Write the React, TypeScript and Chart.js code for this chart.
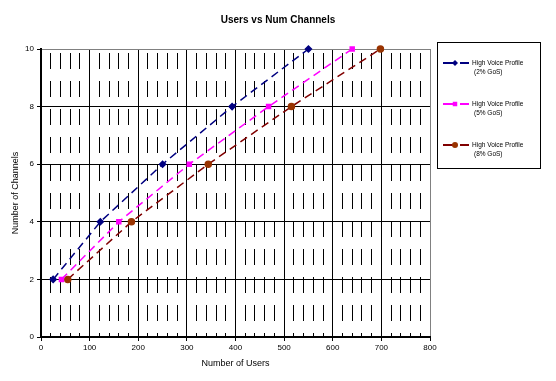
import React, { useEffect, useRef } from "react";
import { Chart, registerables } from "chart.js";

Chart.register(...registerables);

const chartTitle = "Users vs Num Channels";
const xTitle = "Number of Users";
const yTitle = "Number of Channels";
const seriesNames = ["High Voice Profile", "High Voice Profile", "High Voice Profile"];
const seriesSub = ["(2% GoS)", "(5% GoS)", "(8% GoS)"];
const channels = [2, 4, 6, 8, 10];
const users2 = [25, 122, 250, 393, 550];
const users5 = [42, 160, 305, 468, 640];
const users8 = [55, 186, 344, 515, 698];
const lineColors = ["#000080", "#FF00FF", "#800000"];
const markerColors = ["#000080", "#FF00FF", "#993300"];
const markerStyles = ["rectRot", "rect", "circle"];
const markerRadius = [3, 2.8, 3];

const FONT = "'Liberation Sans', Arial, sans-serif";

export default function App() {
  const ref = useRef<HTMLCanvasElement>(null);

  useEffect(() => {
    const canvas = ref.current;
    if (!canvas) return;
    const userSets = [users2, users5, users8];
    const datasets = userSets.map((u, i) => ({
      label: seriesNames[i] + " " + seriesSub[i],
      data: u.map((x, j) => ({ x, y: channels[j] })),
      borderColor: lineColors[i],
      backgroundColor: markerColors[i],
      pointBorderColor: markerColors[i],
      pointBackgroundColor: markerColors[i],
      pointStyle: markerStyles[i],
      pointRadius: markerRadius[i],
      borderWidth: 1.5,
      borderDash: [8, 5],
      tension: 0,
      clip: false as any,
    }));

    const overlay = {
      id: "overlay",
      afterDraw(chart: any) {
        const ctx = chart.ctx;
        ctx.save();
        ctx.fillStyle = "#000";
        ctx.font = `bold 10px ${FONT}`;
        ctx.textAlign = "center";
        ctx.textBaseline = "middle";
        ctx.fillText(chartTitle, 278, 20);

        // legend box
        ctx.strokeStyle = "#000";
        ctx.lineWidth = 1;
        ctx.setLineDash([]);
        ctx.strokeRect(437.5, 42.5, 103, 126);
        for (let i = 0; i < 3; i++) {
          const y = 63 + i * 41;
          ctx.strokeStyle = lineColors[i];
          ctx.lineWidth = 2;
          ctx.setLineDash([14, 3]);
          ctx.beginPath();
          ctx.moveTo(443, y);
          ctx.lineTo(469, y);
          ctx.stroke();
          ctx.setLineDash([]);
          ctx.fillStyle = markerColors[i];
          const r = markerRadius[i];
          const cx = 455;
          ctx.beginPath();
          if (markerStyles[i] === "rectRot") {
            ctx.moveTo(cx, y - r);
            ctx.lineTo(cx + r, y);
            ctx.lineTo(cx, y + r);
            ctx.lineTo(cx - r, y);
            ctx.closePath();
          } else if (markerStyles[i] === "rect") {
            ctx.rect(cx - r * 0.8, y - r * 0.8, r * 1.6, r * 1.6);
          } else {
            ctx.arc(cx, y, r, 0, Math.PI * 2);
          }
          ctx.fill();
          ctx.fillStyle = "#000";
          ctx.font = `6.5px ${FONT}`;
          ctx.textAlign = "left";
          ctx.textBaseline = "middle";
          ctx.fillText(seriesNames[i], 472, y);
          ctx.fillText(seriesSub[i], 474, y + 9);
        }
        ctx.restore();
      },
    };

    const chart = new Chart(canvas, {
      type: "line",
      data: { datasets: datasets as any },
      plugins: [overlay],
      options: {
        animation: false,
        responsive: false,
        layout: { padding: { top: 49, right: 126, left: 0, bottom: 0 } },
        plugins: {
          legend: { display: false },
          title: { display: false },
          tooltip: { enabled: false },
        },
        scales: {
          x: {
            type: "linear",
            min: 0,
            max: 800,
            afterFit: (s: any) => {
              s.height = 44;
            },
            ticks: {
              stepSize: 20,
              autoSkip: false,
              maxRotation: 0,
              padding: 2,
              color: "#000",
              font: { size: 8, family: FONT },
              callback: (v: any) => (Number(v) % 100 === 0 ? String(v) : ""),
            },
            grid: {
              color: (c: any) => {
                const v = c.tick ? c.tick.value : 0;
                return v === 800 ? "#808080" : "#000";
              },
              lineWidth: 1,
              tickLength: 4,
              tickColor: (c: any) => {
                const v = c.tick ? c.tick.value : 0;
                return v % 100 === 0 ? "#000" : "rgba(0,0,0,0)";
              },
            },
            border: {
              display: true,
              color: "#000",
              width: 2,
              dash: (c: any) => {
                const v = c.tick ? c.tick.value : 0;
                return v % 100 === 0 ? [] : [16, 12];
              },
              dashOffset: -4,
            } as any,
            title: {
              display: true,
              text: xTitle,
              color: "#000",
              font: { size: 9, family: FONT },
              padding: { top: 0, bottom: 12 },
            },
          },
          y: {
            type: "linear",
            min: 0,
            max: 10,
            afterFit: (s: any) => {
              s.width = 41;
            },
            ticks: {
              stepSize: 2,
              padding: 3,
              color: "#000",
              font: { size: 8, family: FONT },
            },
            grid: {
              color: (c: any) => {
                const v = c.tick ? c.tick.value : 0;
                return v === 10 ? "#808080" : "#000";
              },
              lineWidth: 1,
              tickLength: 4,
              tickColor: "#000",
            },
            border: { display: true, color: "#000", width: 2 },
            title: {
              display: true,
              text: yTitle,
              color: "#000",
              font: { size: 9, family: FONT },
              padding: { top: 10, bottom: 0 },
            },
          },
        },
      },
    });
    return () => chart.destroy();
  }, []);

  return (
    <div style={{ position: "fixed", left: 0, top: 0, width: 556, height: 381, background: "#fff" }}>
      <canvas ref={ref} width={556} height={381} style={{ width: 556, height: 381, display: "block" }} />
    </div>
  );
}
